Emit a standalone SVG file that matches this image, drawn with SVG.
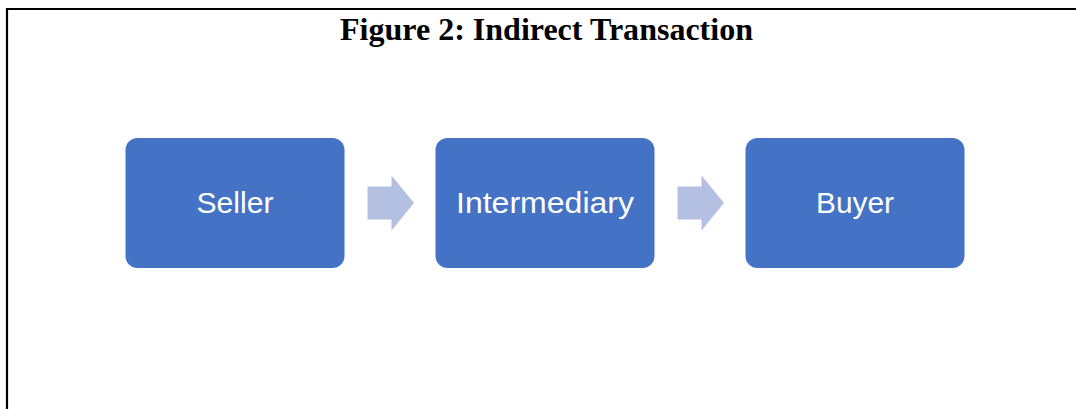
<svg xmlns="http://www.w3.org/2000/svg" width="1076" height="409" viewBox="0 0 1076 409">
  <style>
    .frame { fill: none; stroke: #000; stroke-width: 2.2; }
    .title { font-family: "Liberation Serif", "Times New Roman", serif; font-weight: bold; font-size: 32px; fill: #000; }
    .box { fill: #4472C4; }
    .label { font-family: "Liberation Sans", Arial, sans-serif; font-size: 30px; fill: #fff; text-anchor: middle; }
    .arrow { fill: #B3C0E2; }
  </style>

  <!-- page frame: top and left rules -->
  <path class="frame" d="M7 409 V9 H1076"/>

  <text class="title" x="546.5" y="39.5" text-anchor="middle" textLength="413" lengthAdjust="spacingAndGlyphs">Figure 2: Indirect Transaction</text>

  <g id="seller">
    <rect class="box" x="125.5" y="138" width="219" height="130" rx="12"/>
    <text class="label" x="235" y="213" textLength="77" lengthAdjust="spacingAndGlyphs">Seller</text>
  </g>

  <g id="intermediary">
    <rect class="box" x="435.5" y="138" width="219" height="130" rx="12"/>
    <text class="label" x="545" y="213" textLength="178" lengthAdjust="spacingAndGlyphs">Intermediary</text>
  </g>

  <g id="buyer">
    <rect class="box" x="745.5" y="138" width="219" height="130" rx="12"/>
    <text class="label" x="855" y="213" textLength="78" lengthAdjust="spacingAndGlyphs">Buyer</text>
  </g>

  <g id="connectors">
    <path class="arrow" d="M367.5 186.5 H391.5 V175.5 L414 203 L391.5 230.5 V219.5 H367.5 Z"/>
    <path class="arrow" d="M677.5 186.5 H701.5 V175.5 L724 203 L701.5 230.5 V219.5 H677.5 Z"/>
  </g>
</svg>
